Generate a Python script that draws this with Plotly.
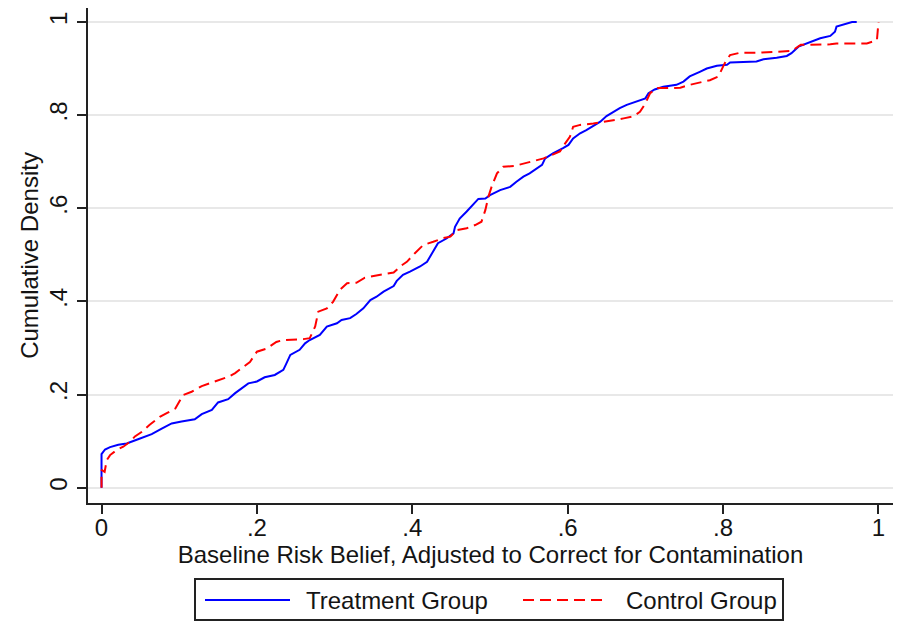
import plotly.graph_objects as go

treat_x = [0.0, 0.0, 0.0045, 0.011, 0.0216, 0.0324, 0.047, 0.0646, 0.0775, 0.0903, 0.103, 0.120, 0.129,
           0.142, 0.150, 0.163, 0.172, 0.183, 0.189, 0.200, 0.210, 0.223, 0.234, 0.238, 0.243, 0.255,
           0.262, 0.268, 0.281, 0.290, 0.303, 0.309, 0.320, 0.328, 0.337, 0.346, 0.354, 0.363, 0.376,
           0.380, 0.388, 0.397, 0.410, 0.419, 0.425, 0.433, 0.444, 0.453, 0.455, 0.461, 0.470, 0.476,
           0.485, 0.494, 0.500, 0.513, 0.526, 0.534, 0.543, 0.551, 0.560, 0.567, 0.571, 0.581, 0.594,
           0.601, 0.607, 0.616, 0.624, 0.633, 0.642, 0.650, 0.659, 0.667, 0.676, 0.689, 0.700, 0.704,
           0.712, 0.723, 0.740, 0.749, 0.757, 0.770, 0.779, 0.792, 0.805, 0.809, 0.843, 0.852, 0.869,
           0.882, 0.888, 0.897, 0.908, 0.920, 0.925, 0.938, 0.944, 0.946, 0.959, 0.966, 0.972]
treat_y = [0.0, 0.072, 0.082, 0.087, 0.092, 0.095, 0.104, 0.115, 0.127, 0.138, 0.142, 0.147, 0.158,
           0.167, 0.183, 0.190, 0.203, 0.217, 0.224, 0.228, 0.237, 0.242, 0.253, 0.267, 0.285, 0.296,
           0.310, 0.317, 0.328, 0.346, 0.353, 0.360, 0.364, 0.373, 0.385, 0.403, 0.410, 0.421, 0.433,
           0.444, 0.457, 0.464, 0.475, 0.485, 0.503, 0.525, 0.535, 0.546, 0.560, 0.578, 0.593, 0.603,
           0.620, 0.621, 0.628, 0.639, 0.646, 0.657, 0.668, 0.675, 0.686, 0.693, 0.707, 0.718, 0.729,
           0.736, 0.750, 0.761, 0.768, 0.777, 0.786, 0.798, 0.807, 0.815, 0.822, 0.829, 0.836, 0.847,
           0.855, 0.861, 0.865, 0.872, 0.883, 0.893, 0.900, 0.906, 0.908, 0.913, 0.915, 0.920, 0.923,
           0.927, 0.933, 0.947, 0.954, 0.961, 0.965, 0.970, 0.979, 0.990, 0.996, 1.0, 1.0]

ctrl_x = [0.0, 0.0, 0.004, 0.005, 0.0067, 0.011, 0.0196, 0.028, 0.037, 0.043, 0.052, 0.062, 0.075,
          0.084, 0.095, 0.105, 0.116, 0.129, 0.140, 0.150, 0.163, 0.172, 0.180, 0.191, 0.200, 0.213,
          0.225, 0.234, 0.260, 0.268, 0.275, 0.279, 0.290, 0.298, 0.307, 0.316, 0.328, 0.339, 0.352,
          0.369, 0.376, 0.386, 0.393, 0.403, 0.414, 0.427, 0.440, 0.449, 0.457, 0.470, 0.481, 0.489,
          0.494, 0.498, 0.502, 0.509, 0.517, 0.532, 0.547, 0.558, 0.569, 0.579, 0.590, 0.597, 0.603,
          0.607, 0.616, 0.633, 0.650, 0.663, 0.672, 0.684, 0.693, 0.700, 0.706, 0.715, 0.732, 0.745,
          0.757, 0.770, 0.783, 0.794, 0.798, 0.802, 0.809, 0.822, 0.847, 0.873, 0.889, 0.893, 0.900,
          0.912, 0.938, 0.946, 0.968, 0.985, 0.993, 0.998, 1.0]
ctrl_y = [0.0, 0.038, 0.034, 0.045, 0.059, 0.070, 0.081, 0.088, 0.099, 0.110, 0.120, 0.135, 0.152,
          0.160, 0.170, 0.199, 0.206, 0.218, 0.224, 0.231, 0.238, 0.246, 0.256, 0.270, 0.292, 0.299,
          0.313, 0.317, 0.319, 0.321, 0.346, 0.378, 0.385, 0.399, 0.425, 0.439, 0.440, 0.451, 0.455,
          0.459, 0.462, 0.477, 0.485, 0.503, 0.521, 0.528, 0.536, 0.539, 0.553, 0.557, 0.564, 0.571,
          0.596, 0.625, 0.646, 0.675, 0.689, 0.691, 0.697, 0.702, 0.707, 0.714, 0.722, 0.740, 0.754,
          0.775, 0.779, 0.782, 0.786, 0.790, 0.793, 0.797, 0.807, 0.825, 0.847, 0.858, 0.858, 0.859,
          0.865, 0.870, 0.875, 0.883, 0.897, 0.911, 0.929, 0.934, 0.934, 0.936, 0.938, 0.943, 0.951,
          0.951, 0.952, 0.954, 0.954, 0.954, 0.958, 0.961, 1.0]

series_names = ["Treatment Group", "Control Group"]
series_colors = ["#0000ff", "#ff0000"]
series_dash = ["solid", "11px,6px"]

tick_vals = [0, 0.2, 0.4, 0.6, 0.8, 1]
tick_text = ["0", ".2", ".4", ".6", ".8", "1"]

FONT = "Liberation Sans, Arial, sans-serif"
TXT = "#141414"
FS = 24

fig = go.Figure()
for xs, ys, nm, col, dsh in zip([treat_x, ctrl_x], [treat_y, ctrl_y], series_names, series_colors, series_dash):
    fig.add_trace(go.Scatter(x=xs, y=ys, mode="lines", name=nm,
                             line=dict(color=col, width=2, dash=dsh)))

# page has an 8px body margin; figure occupies page x 8..917, y 8..624
FW, FH = 909, 616
L, W, T, H = 80, 805, 0, 495           # figure coords of plot area
PL, PB = 88, 503                       # page coords of plot-area left / bottom
def px(v): return (v - PL) / W
def py(v): return (PB - v) / H

shapes = [
    dict(type="rect", xref="paper", yref="paper", x0=px(195), x1=px(783), y0=py(579), y1=py(620),
         line=dict(color="#222222", width=2), fillcolor="white", layer="above"),
    dict(type="line", xref="paper", yref="paper", x0=px(205), x1=px(290), y0=py(600), y1=py(600),
         line=dict(color=series_colors[0], width=2, dash=series_dash[0])),
    dict(type="line", xref="paper", yref="paper", x0=px(523), x1=px(608), y0=py(600), y1=py(600),
         line=dict(color=series_colors[1], width=2, dash=series_dash[1])),
    # faint right frame edge of the original graph window
    dict(type="line", xref="paper", yref="paper", x0=px(915.5), x1=px(915.5), y0=py(8), y1=py(624),
         line=dict(color="#cfcfcf", width=2)),
]
annotations = [
    dict(xref="paper", yref="paper", x=px(304), y=py(600), text=series_names[0], showarrow=False,
         xanchor="left", yanchor="middle", font=dict(size=FS, color=TXT, family=FONT)),
    dict(xref="paper", yref="paper", x=px(624), y=py(600), text=series_names[1], showarrow=False,
         xanchor="left", yanchor="middle", font=dict(size=FS, color=TXT, family=FONT)),
]

fig.update_layout(
    width=FW, height=FH,
    margin=dict(l=L, r=FW - L - W, t=T, b=FH - T - H),
    paper_bgcolor="white", plot_bgcolor="white",
    font=dict(family=FONT, size=FS, color=TXT),
    showlegend=False,
    shapes=shapes, annotations=annotations,
    xaxis=dict(range=[-0.0174, 1.0187], showgrid=False, zeroline=False, automargin=False,
               showline=True, linecolor="#222222", linewidth=2,
               ticks="outside", ticklen=9, tickwidth=2, tickcolor="#222222",
               tickvals=tick_vals, ticktext=tick_text, tickfont=dict(size=FS),
               ticklabelstandoff=-7,
               title=dict(text="Baseline Risk Belief, Adjusted to Correct for Contamination",
                          font=dict(size=FS), standoff=0)),
    yaxis=dict(range=[-0.0329, 1.030], showgrid=True, gridcolor="#e8e8e8", gridwidth=2,
               zeroline=False, showline=True, linecolor="#222222", linewidth=2, automargin=False,
               ticks="outside", ticklen=9, tickwidth=2, tickcolor="#222222",
               tickvals=tick_vals, ticktext=tick_text, tickangle=-90, tickfont=dict(size=FS),
               title=dict(text="Cumulative Density", font=dict(size=FS), standoff=0)),
)

fig.write_html("out.html")
